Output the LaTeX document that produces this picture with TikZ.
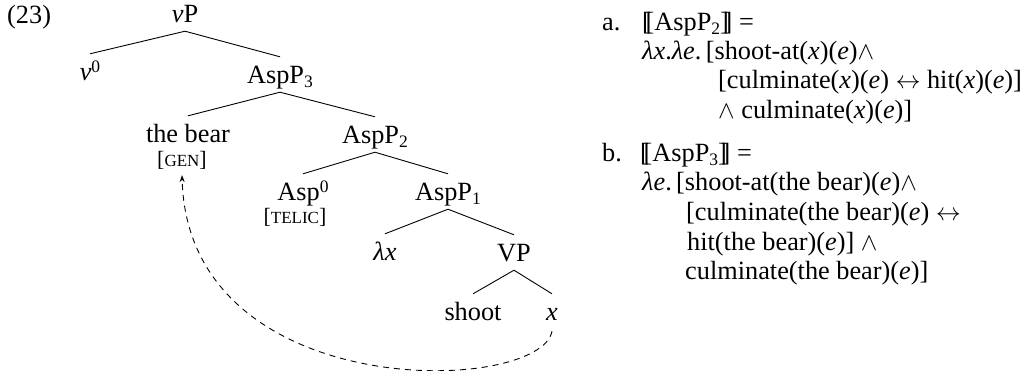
\documentclass[tikz,border=0pt]{standalone}
\usepackage{fontspec}
\setmainfont{Liberation Serif}
\usetikzlibrary{arrows.meta}
\newcommand\mysub[1]{\raisebox{-4pt}{\fontsize{17.5}{18}\selectfont #1}}
\newcommand\mysup[1]{\raisebox{8pt}{\fontsize{17.5}{18}\selectfont #1}}
\newcommand\dbl{[\kern-0.2em[}
\newcommand\dbr{]\kern-0.2em]}
\newcommand\smc[1]{{\fontsize{17}{17}\selectfont #1}}
\begin{document}
\begin{tikzpicture}[x=1pt,y=-1pt,
  every node/.style={font=\fontsize{26.3}{30}\selectfont},
  tn/.style={anchor=base, text height=18pt, text depth=1pt, inner ysep=8pt, inner xsep=0pt},
  feat/.style={anchor=base, inner sep=0pt, font=\fontsize{21.9}{24}\selectfont},
  txt/.style={anchor=base west, inner sep=0pt},
  br/.style={line width=0.9pt},
  mv/.style={line width=0.9pt, dash pattern=on 6pt off 5pt, -{Stealth[length=7pt,width=5pt]}}]
\useasboundingbox (0,0) rectangle (1031,370);
% tree
\node[txt] (ex) at (7,23) {(23)};
\node[tn] (vP) at (185,22) {\textit{v}P};
\node[tn] (v0) at (90,80) {\textit{v}\mysup{0}};
\node[tn] (A3) at (280,83) {AspP\mysub{3}};
\node[tn] (bear) at (188,142) {the bear};
\node[feat] (gen) at (182,166) {[\smc{GEN}]};
\node[tn] (A2) at (375,143) {AspP\mysub{2}};
\node[tn] (A0) at (303,200) {Asp\mysup{0}};
\node[feat] (telic) at (295,223) {[\smc{TELIC}]};
\node[tn] (A1) at (448,200) {AspP\mysub{1}};
\node[tn] (lx) at (385,260) {\textit{λx}};
\node[tn] (VP) at (514,261) {VP};
\node[tn] (shoot) at (473,320) {shoot};
\node[tn] (x) at (552,320) {\textit{x}};
\draw[br] (vP.south) -- (v0.north);
\draw[br] (vP.south) -- (A3.north);
\draw[br] (A3.south) -- (bear.north);
\draw[br] (A3.south) -- (A2.north);
\draw[br] (A2.south) -- (A0.north);
\draw[br] (A2.south) -- (A1.north);
\draw[br] (A1.south) -- (lx.north);
\draw[br] (A1.south) -- (VP.north);
\draw[br] (VP.south) -- (shoot.north);
\draw[br] (VP.south) -- (x.north);
\coordinate (tip) at ([yshift=-6pt]gen.south);
\draw[mv] ([yshift=-2pt]x.south) .. controls (540,395) and (188,405) .. (tip);
% formulas
\node[txt] (la) at (602,30) {a.};
\node[txt] (a1) at (642,30) {\dbl AspP\mysub{2}\dbr{} =};
\node[txt] (a2) at (642,59) {\textit{λx}.\textit{λe}.\,[shoot-at(\textit{x})(\textit{e})$\wedge$};
\node[txt] (a3) at (718,88) {[culminate(\textit{x})(\textit{e}) $\leftrightarrow$ hit(\textit{x})(\textit{e})]};
\node[txt] (a4) at (718,118) {$\wedge$ culminate(\textit{x})(\textit{e})]};
\node[txt] (lb) at (602,161) {b.};
\node[txt] (b1) at (640,161) {\dbl AspP\mysub{3}\dbr{} =};
\node[txt] (b2) at (642,190) {\textit{λe}.\,[shoot-at(the bear)(\textit{e})$\wedge$};
\node[txt] (b3) at (686,220) {[culminate(the bear)(\textit{e}) $\leftrightarrow$};
\node[txt] (b4) at (687,250) {hit(the bear)(\textit{e})] $\wedge$};
\node[txt] (b5) at (685,279) {culminate(the bear)(\textit{e})]};
\end{tikzpicture}
\end{document}
